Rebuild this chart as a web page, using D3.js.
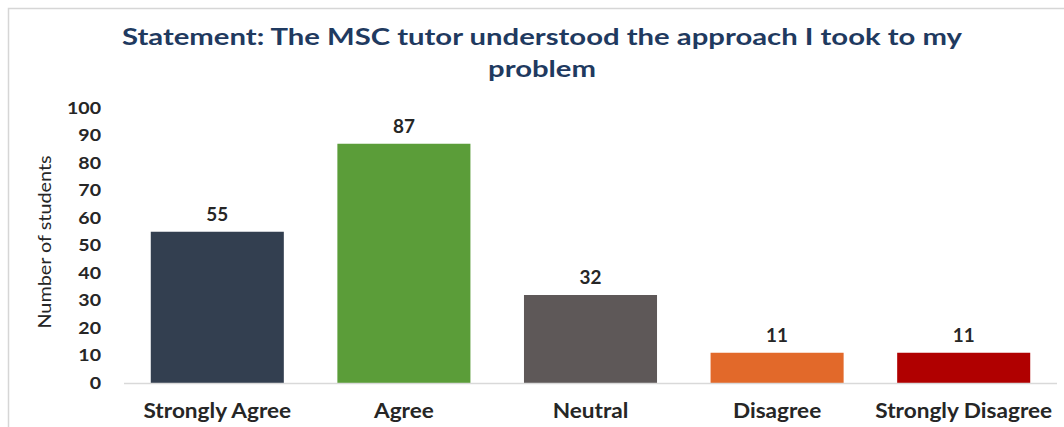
<!DOCTYPE html>
<html>
<head>
<meta charset="utf-8">
<script src="https://cdn.jsdelivr.net/npm/d3@7"></script>
<style>
  html, body { margin: 0; padding: 0; background: #fff; }
  svg { display: block; }
  text { font-family: Lato, "Open Sans", sans-serif; }
</style>
</head>
<body>
<svg id="chart" width="1064" height="427"></svg>
<script>
// Survey responses for the MSC tutor statement
const categories = ["Strongly Agree", "Agree", "Neutral", "Disagree", "Strongly Disagree"];
const counts = [55, 87, 32, 11, 11];
const barColors = ["#333f50", "#5b9d39", "#5e5858", "#e2692a", "#b00000"];
const yTicks = [0, 10, 20, 30, 40, 50, 60, 70, 80, 90, 100];
const titleLines = ["Statement: The MSC tutor understood the approach I took to my", "problem"];
const yAxisTitle = "Number of students";

const svg = d3.select("#chart");
const W = 1064, H = 427;

// widen a text selection horizontally by a factor, keeping its anchor
function widen(sel, factor) {
  sel.each(function () {
    const w = this.getComputedTextLength();
    d3.select(this).attr("textLength", w * factor).attr("lengthAdjust", "spacingAndGlyphs");
  });
}

// outer frame (top and left edges)
svg.append("path")
  .attr("d", `M8.5,${H} V8.5 H${W}`)
  .attr("fill", "none")
  .attr("stroke", "#d6d6d6")
  .attr("stroke-width", 1.5);

const x = d3.scaleBand()
  .domain(categories)
  .range([124, 1057])
  .paddingInner(0.287)
  .paddingOuter(0.1435);

const y = d3.scaleLinear().domain([0, 100]).range([383, 108]);

// title
const title = svg.append("g").attr("fill", "#1f3a60")
  .attr("font-weight", "bold").attr("font-size", 23);
const titleWidths = [840, 108];
title.selectAll("text").data(titleLines).join("text")
  .attr("x", 542)
  .attr("y", (d, i) => [45, 77][i])
  .attr("text-anchor", "middle")
  .attr("textLength", (d, i) => titleWidths[i])
  .attr("lengthAdjust", "spacingAndGlyphs")
  .text(d => d);

// y axis tick labels (no axis line)
const yAxis = svg.append("g")
  .attr("transform", "translate(101,0)")
  .call(d3.axisLeft(y).tickValues(yTicks).tickSize(0).tickPadding(0));
yAxis.select(".domain").remove();
yAxis.selectAll("text")
  .attr("font-family", "Lato, 'Open Sans', sans-serif")
  .attr("font-size", 17)
  .attr("font-weight", "bold")
  .attr("fill", "#262626")
  .call(widen, 1.15);

// y axis title
svg.append("text")
  .attr("transform", "translate(51,242) rotate(-90)")
  .attr("text-anchor", "middle")
  .attr("font-size", 18)
  .attr("fill", "#262626")
  .text(yAxisTitle)
  .call(widen, 1.1);

// bars
svg.append("g").selectAll("rect").data(categories).join("rect")
  .attr("x", d => x(d))
  .attr("width", x.bandwidth())
  .attr("y", (d, i) => y(counts[i]))
  .attr("height", (d, i) => y(0) - y(counts[i]))
  .attr("fill", (d, i) => barColors[i]);

// value labels
svg.append("g").selectAll("text").data(categories).join("text")
  .attr("x", d => x(d) + x.bandwidth() / 2)
  .attr("y", (d, i) => y(counts[i]) - 11)
  .attr("text-anchor", "middle")
  .attr("font-size", 18)
  .attr("font-weight", "bold")
  .attr("fill", "#262626")
  .text((d, i) => counts[i])
  .call(widen, 1.05);

// baseline / category axis
const xAxis = svg.append("g")
  .attr("transform", `translate(0,${y(0)})`)
  .call(d3.axisBottom(x).tickSize(0));
xAxis.select(".domain")
  .attr("stroke", "#d9d9d9")
  .attr("stroke-width", 1.5)
  .attr("d", `M${x.range()[0]},0.5H${x.range()[1]}`);
xAxis.selectAll("text")
  .attr("y", 35)
  .attr("dy", null)
  .attr("font-family", "Lato, 'Open Sans', sans-serif")
  .attr("font-size", 20)
  .attr("font-weight", "bold")
  .attr("fill", "#262626")
  .call(widen, 1.13);
</script>
</body>
</html>
